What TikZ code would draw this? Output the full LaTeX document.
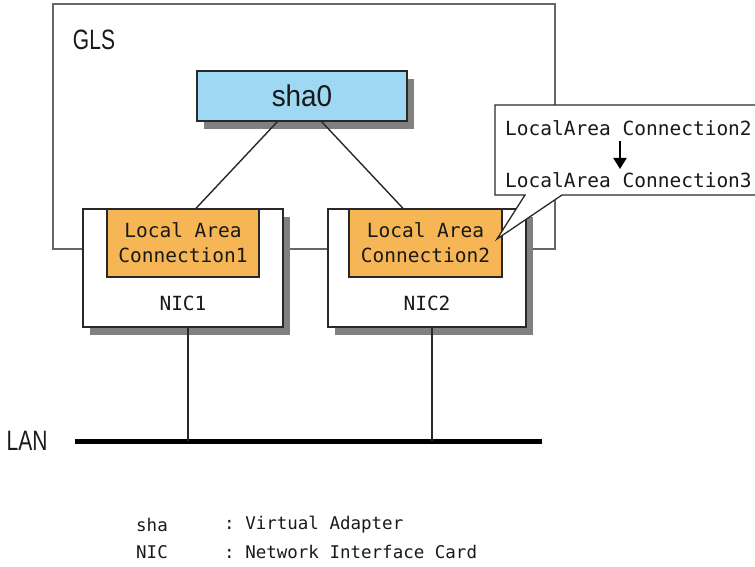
\documentclass[tikz,border=0pt]{standalone}
\usepackage{fontspec}
\setmonofont{DejaVu Sans Mono}
\newfontfamily\narrowsans[FakeStretch=0.75]{Liberation Sans}
\newfontfamily\shasans[FakeStretch=0.93]{Liberation Sans}
\usetikzlibrary{shadows,arrows.meta}
\definecolor{shablue}{RGB}{158,216,242}
\definecolor{lacorange}{RGB}{247,182,85}
\definecolor{lineg}{RGB}{40,40,40}
\begin{document}
\begin{tikzpicture}[x=1pt,y=-1pt,
  every node/.style={font=\ttfamily, text=black!90},
  glsbox/.style={draw=black!60, line width=1.7pt, inner sep=0pt},
  shadowed/.style={general shadow={fill=black!50, shadow xshift=7pt, shadow yshift=-8pt}},
  shabox/.style={draw=lineg, line width=1.3pt, fill=shablue, shadowed, inner sep=0pt,
    minimum width=210pt, minimum height=50pt, font=\shasans\fontsize{30}{34}\selectfont},
  nicbox/.style={draw=lineg, line width=1.3pt, fill=white, shadowed, inner sep=0pt, minimum height=118pt},
  lacbox/.style={draw=lineg, line width=1.3pt, fill=lacorange, inner sep=0pt, minimum height=68pt,
    align=center, font=\ttfamily\fontsize{19.5}{25}\selectfont},
  midtxt/.style={font=\ttfamily\fontsize{19.5}{25}\selectfont, inner sep=0pt},
  bigtxt/.style={font=\narrowsans\fontsize{28}{32}\selectfont, inner sep=0pt},
  legtxt/.style={font=\ttfamily\fontsize{17.5}{20}\selectfont, inner sep=0pt, anchor=west},
  link/.style={draw=lineg, line width=1.4pt},
  lanline/.style={draw=black, line width=5pt}
]
\useasboundingbox (0,0) rectangle (755,567);
% GLS area
\node[glsbox, minimum width=502pt, minimum height=245pt] (gls) at (304,126.5) {};
\node[bigtxt] (glslabel) at (94,40) {GLS};
% virtual adapter
\node[shabox] (sha) at (302,96) {sha0};
% NIC cards
\node[nicbox, minimum width=200pt] (nic1) at (183,268) {};
\node[nicbox, minimum width=198pt] (nic2) at (427,268) {};
\node[lacbox, minimum width=152pt] (lac1) at (183,243) {Local Area\\Connection1};
\node[lacbox, minimum width=153pt] (lac2) at (425.5,243) {Local Area\\Connection2};
\node[midtxt] (nic1label) at (183,303) {NIC1};
\node[midtxt] (nic2label) at (427,303) {NIC2};
% links sha0 -> connections
\coordinate (s1) at (278,121);
\coordinate (s2) at (321,121);
\draw[link] (s1) -- (lac1.north -| 196,0);
\draw[link] (s2) -- (lac2.north -| 403,0);
% LAN
\coordinate (lanL) at (75,441);
\coordinate (lanR) at (542,441);
\draw[lanline] (lanL) -- (lanR);
\node[bigtxt] (lanlabel) at (27,441) {LAN};
\draw[link] (nic1.south -| 188,0) -- (188,441);
\draw[link] (nic2.south -| 432,0) -- (432,441);
% callout
\coordinate (tip) at (497,239);
\draw[draw=lineg, line width=1.3pt, fill=white]
  (495,105) -- (762,105) -- (762,195) -- (562,195) -- (tip) -- (525,195) -- (495,195) -- cycle;
\node[midtxt, anchor=west] (c1) at (505,128) {LocalArea Connection2};
\node[midtxt, anchor=west] (c2) at (505,180) {LocalArea Connection3};
\draw[line width=2pt, -{Triangle[width=13pt,length=11pt]}] (620,141) -- (620,169);
% legend
\node[legtxt] (leg1) at (136,525) {sha};
\node[legtxt] (leg1d) at (224,525) {: Virtual Adapter};
\node[legtxt] (leg2) at (136,552) {NIC};
\node[legtxt] (leg2d) at (224,552) {: Network Interface Card};
\end{tikzpicture}
\end{document}
